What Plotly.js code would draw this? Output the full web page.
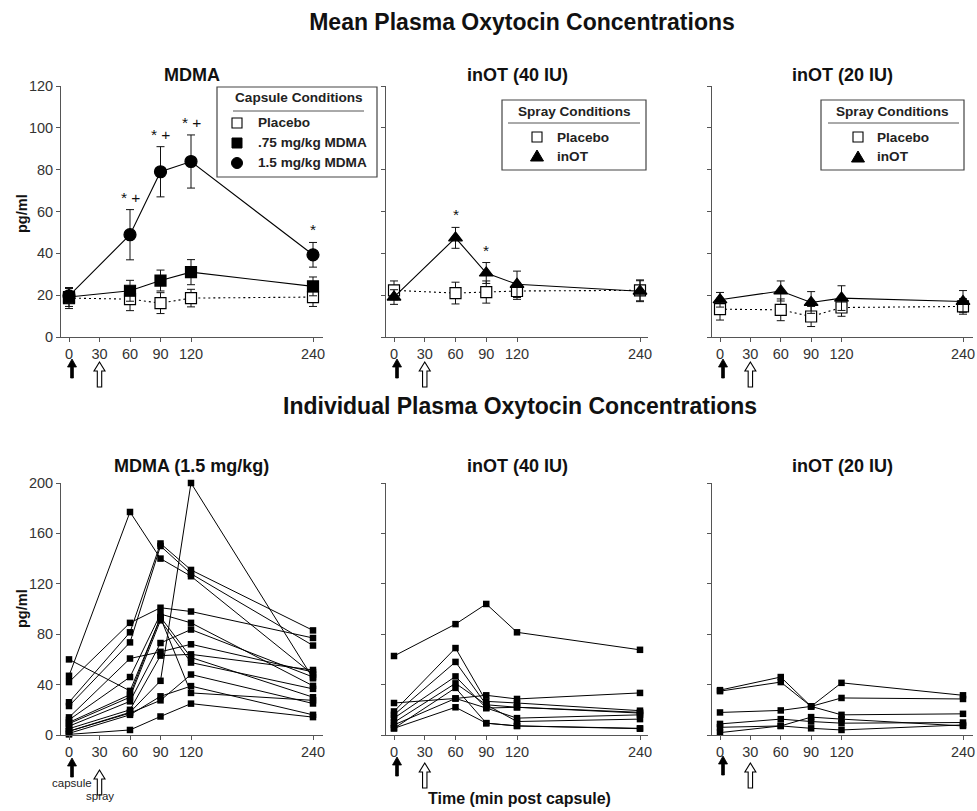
<!DOCTYPE html>
<html><head><meta charset="utf-8">
<script src="https://cdn.plot.ly/plotly-3.0.1.min.js"></script>
<style>html,body{margin:0;padding:0;background:#fff}#chart{width:977px;height:811px}</style>
</head><body><div id="chart"></div>
<script>
// ---------- DATA ----------
const times = [0, 60, 90, 120, 240];
const timeTicks = [0, 30, 60, 90, 120, 240];
const meanTicks = [0, 20, 40, 60, 80, 100, 120];
const indivTicks = [0, 40, 80, 120, 160, 200];

// Mean panel: MDMA (capsule conditions)
const mdmaPlaceboMean = [18.6, 18.1, 16.2, 18.6, 19.1];
const mdmaPlaceboSem  = [5.0, 5.5, 5.0, 4.2, 4.5];
const mdma075Mean     = [19.1, 22.1, 27.0, 31.0, 24.2];
const mdma075Sem      = [4.5, 5.0, 5.0, 6.0, 4.5];
const mdma150Mean     = [19.7, 48.9, 79.0, 83.9, 39.3];
const mdma150Sem      = [3.5, 12.0, 12.0, 12.7, 5.9];
const mdmaSig         = ['', '* +', '* +', '* +', '*'];

// Mean panel: inOT 40 IU (spray conditions)
const inot40PlaceboMean = [22.3, 21.0, 21.5, 22.0, 22.3];
const inot40PlaceboSem  = [4.5, 5.2, 5.3, 4.0, 5.0];
const inot40Mean        = [19.1, 47.4, 30.6, 25.2, 21.9];
const inot40Sem         = [3.5, 5.0, 5.0, 6.3, 5.0];
const inot40Sig         = ['', '*', '*', '', ''];

// Mean panel: inOT 20 IU
const inot20PlaceboMean = [13.3, 13.0, 9.8, 14.1, 14.6];
const inot20PlaceboSem  = [5.2, 5.2, 4.8, 4.2, 3.7];
const inot20Mean        = [17.8, 22.0, 16.5, 18.6, 17.0];
const inot20Sem         = [3.5, 4.8, 5.2, 5.9, 5.2];
const inot20Sig         = ['', '', '', '', ''];

// Individual subjects (pg/ml at each time)
const mdmaIndividual = [
  [47, 177, 140, 126, 48],
  [3, 18, 43, 200, 45],
  [60, 35, 93, 33.4, 27.5],
  [42, 89, 101, 98, 77],
  [26, 81.5, 152, 131, 83],
  [23, 73.5, 150, 128, 71],
  [14, 60.7, 66, 72, 50],
  [12, 46, 96, 89, 39],
  [10, 32, 93.6, 61.5, 30],
  [9, 30, 91, 57.5, 36.6],
  [7, 26.7, 73, 83.7, 46],
  [5, 20, 63, 64, 51.6],
  [3, 17.4, 27.5, 48, 25],
  [1.3, 16, 30.7, 38.8, 16],
  [0.5, 4, 14.7, 24.9, 14.2]
];
const inot40Individual = [
  [62.7, 88, 104, 81.5, 67.6],
  [25.4, 29, 31.5, 28.6, 33.4],
  [18.7, 69, 26.7, 25.4, 19.3],
  [16, 58, 24, 22, 17.4],
  [13.4, 46.5, 21.4, 13.4, 16],
  [10, 41, 24, 10.7, 12.6],
  [5.3, 37.4, 9.4, 7.2, 5.3],
  [5.3, 22, 9.4, 7.2, 5],
  [8, 29, 21.4, 22, 18]
];
const inot20Individual = [
  [35.6, 46, 22.7, 41.4, 31.5],
  [34.8, 42, 22.7, 29.4, 28.6],
  [17.9, 19.5, 22.7, 16, 16.8],
  [8.8, 12.6, 10.7, 9.4, 9.9],
  [6.1, 7.2, 5.3, 4, 8],
  [1.9, 7.2, 14.2, 12.6, 7.2]
];

const mainTitles = ['Mean Plasma Oxytocin Concentrations', 'Individual Plasma Oxytocin Concentrations'];
const topTitles = ['MDMA', 'inOT (40 IU)', 'inOT (20 IU)'];
const bottomTitles = ['MDMA (1.5 mg/kg)', 'inOT (40 IU)', 'inOT (20 IU)'];
const capsuleLegendTitle = 'Capsule Conditions';
const capsuleLegend = ['Placebo', '.75 mg/kg MDMA', '1.5 mg/kg MDMA'];
const sprayLegendTitle = 'Spray Conditions';
const sprayLegend = ['Placebo', 'inOT'];
const yTitle = 'pg/ml';
const xTitle = 'Time (min post capsule)';
const arrowLabels = ['capsule', 'spray'];
const capsuleTime = 0, sprayTime = 30;

// ---------- LAYOUT GEOMETRY ----------
const W = 977, H = 811;
const FONT = 'Liberation Sans, Arial, Helvetica, sans-serif';
const fx = p => p / W;
const fy = p => 1 - p / H;

const cols = [
  {l: 61, r: 323, x0: 69, x240: 313},
  {l: 386, r: 648, x0: 394, x240: 640},
  {l: 712, r: 973, x0: 720, x240: 963}
];
const rows = [
  {t: 86, b: 337, max: 120, ticks: meanTicks},
  {t: 483, b: 735, max: 200, ticks: indivTicks}
];

const layout = {
  width: W, height: H,
  margin: {l: 0, r: 0, t: 0, b: 0},
  paper_bgcolor: '#fff', plot_bgcolor: '#fff',
  showlegend: false,
  font: {family: FONT, color: '#222'},
  title: {text: '<b>' + mainTitles[0] + '</b>', x: fx(522), xanchor: 'center', xref: 'paper',
          y: fy(22), yanchor: 'middle', yref: 'paper', font: {size: 23, family: FONT, color: '#111'}},
  annotations: [], shapes: []
};

function axisName(r, c) { return r * 3 + c + 1; }

for (let r = 0; r < 2; r++) {
  for (let c = 0; c < 3; c++) {
    const n = axisName(r, c);
    const col = cols[c], row = rows[r];
    const s = (col.x240 - col.x0) / 240;
    const xk = n === 1 ? 'xaxis' : 'xaxis' + n;
    const yk = n === 1 ? 'yaxis' : 'yaxis' + n;
    layout[xk] = {
      domain: [fx(col.l), fx(col.r)],
      range: [(col.l - col.x0) / s, (col.r - col.x0) / s],
      anchor: n === 1 ? 'y' : 'y' + n,
      showline: true, linecolor: '#555', linewidth: 1,
      ticks: 'outside', ticklen: 4, tickcolor: '#555', tickwidth: 1,
      tickvals: timeTicks, ticktext: timeTicks.map(String),
      showgrid: false, zeroline: false, fixedrange: true,
      tickfont: {size: 14.5, color: '#333', family: FONT}
    };
    layout[yk] = {
      domain: [fy(row.b), fy(row.t)],
      range: [0, row.max],
      anchor: n === 1 ? 'x' : 'x' + n,
      showline: true, linecolor: '#555', linewidth: 1,
      ticks: 'outside', ticklen: 4, tickcolor: '#555', tickwidth: 1,
      tickvals: row.ticks, ticktext: row.ticks.map(String),
      showticklabels: c === 0,
      showgrid: false, zeroline: false, fixedrange: true,
      tickfont: {size: 14.5, color: '#333', family: FONT}
    };
  }
}

// ---------- TRACES ----------
const traces = [];
function axRefs(n) { return {xaxis: n === 1 ? 'x' : 'x' + n, yaxis: n === 1 ? 'y' : 'y' + n}; }

function meanTrace(n, y, sem, symbol, fill, dash, size) {
  return Object.assign({
    type: 'scatter', mode: 'lines+markers', x: times, y: y,
    cliponaxis: false,
    line: {color: '#000', width: 1.1, dash: dash},
    marker: {symbol: symbol, size: size, color: fill, line: {color: '#000', width: 1.2}},
    error_y: {type: 'data', array: sem, visible: true, color: '#111', thickness: 1, width: 4}
  }, axRefs(n));
}

const DOT = '2px,3px';
// MDMA
traces.push(meanTrace(1, mdmaPlaceboMean, mdmaPlaceboSem, 'square', '#fff', DOT, 11));
traces.push(meanTrace(1, mdma075Mean, mdma075Sem, 'square', '#000', 'solid', 11));
traces.push(meanTrace(1, mdma150Mean, mdma150Sem, 'circle', '#000', 'solid', 12));
// inOT 40
traces.push(meanTrace(2, inot40PlaceboMean, inot40PlaceboSem, 'square', '#fff', DOT, 11));
traces.push(meanTrace(2, inot40Mean, inot40Sem, 'triangle-up', '#000', 'solid', 12));
// inOT 20
traces.push(meanTrace(3, inot20PlaceboMean, inot20PlaceboSem, 'square', '#fff', DOT, 11));
traces.push(meanTrace(3, inot20Mean, inot20Sem, 'triangle-up', '#000', 'solid', 12));

function indivTraces(n, subjects) {
  subjects.forEach(vals => {
    traces.push(Object.assign({
      type: 'scatter', mode: 'lines+markers', x: times, y: vals, cliponaxis: false,
      line: {color: '#000', width: 1},
      marker: {symbol: 'square', size: 6.5, color: '#000'}
    }, axRefs(n)));
  });
}
indivTraces(4, mdmaIndividual);
indivTraces(5, inot40Individual);
indivTraces(6, inot20Individual);

// ---------- ANNOTATIONS ----------
const A = layout.annotations, S = layout.shapes;

// second main title
A.push({text: '<b>' + mainTitles[1] + '</b>', xref: 'paper', yref: 'paper', x: fx(520), y: fy(406),
        xanchor: 'center', yanchor: 'middle', showarrow: false, font: {size: 23, family: FONT, color: '#111'}});

// panel titles
for (let c = 0; c < 3; c++) {
  const nT = axisName(0, c), nB = axisName(1, c);
  A.push({text: '<b>' + topTitles[c] + '</b>', xref: (nT === 1 ? 'x' : 'x' + nT) + ' domain', yref: 'paper',
          x: 0.5, y: fy(75), xanchor: 'center', yanchor: 'middle', showarrow: false,
          font: {size: 18, family: FONT, color: '#111'}});
  A.push({text: '<b>' + bottomTitles[c] + '</b>', xref: 'x' + nB + ' domain', yref: 'paper',
          x: 0.5, y: fy(466), xanchor: 'center', yanchor: 'middle', showarrow: false,
          font: {size: 18, family: FONT, color: '#111'}});
}

// significance markers
function sigMarks(n, sig, mean, sem) {
  sig.forEach((t, i) => {
    if (!t) return;
    A.push({text: t, xref: n === 1 ? 'x' : 'x' + n, yref: n === 1 ? 'y' : 'y' + n,
            x: times[i], y: mean[i] + sem[i], yanchor: 'bottom', xanchor: 'center', yshift: 2,
            showarrow: false, font: {size: 15.5, family: FONT, color: '#111'}});
  });
}
sigMarks(1, mdmaSig, mdma150Mean, mdma150Sem);
sigMarks(2, inot40Sig, inot40Mean, inot40Sem);
sigMarks(3, inot20Sig, inot20Mean, inot20Sem);

// y-axis titles
[214, 609].forEach(py => {
  A.push({text: '<b>' + yTitle + '</b>', xref: 'paper', yref: 'paper', x: fx(22), y: fy(py),
          textangle: -90, xanchor: 'center', yanchor: 'middle', showarrow: false,
          font: {size: 14.5, family: FONT, color: '#111'}});
});
// x-axis title
A.push({text: '<b>' + xTitle + '</b>', xref: 'paper', yref: 'paper', x: fx(519), y: fy(798),
        xanchor: 'center', yanchor: 'middle', showarrow: false, font: {size: 16, family: FONT, color: '#111'}});

// arrows (capsule = solid, spray = hollow)
const blackArrow = 'M3,0 L-1.5,-8 L1.6,-8 L1.6,-19 L4.4,-19 L4.4,-8 L7.5,-8 Z';
const hollowArrow = 'M0,0 L-5.5,-9 L-2.2,-9 L-2.2,-25 L2.2,-25 L2.2,-9 L5.5,-9 Z';
const arrowTips = [
  [{b: 359, h: 362}, {b: 359, h: 362}, {b: 359, h: 362}],
  [{b: 758, h: 770}, {b: 757, h: 763}, {b: 756, h: 763}]
];
for (let r = 0; r < 2; r++) for (let c = 0; c < 3; c++) {
  const n = axisName(r, c);
  const xr = n === 1 ? 'x' : 'x' + n;
  S.push({type: 'path', xref: xr, yref: 'paper', xsizemode: 'pixel', ysizemode: 'pixel',
          xanchor: capsuleTime, yanchor: fy(arrowTips[r][c].b), path: blackArrow,
          fillcolor: '#000', line: {color: '#000', width: 0.8}});
  S.push({type: 'path', xref: xr, yref: 'paper', xsizemode: 'pixel', ysizemode: 'pixel',
          xanchor: sprayTime, yanchor: fy(arrowTips[r][c].h), path: hollowArrow,
          fillcolor: '#fff', line: {color: '#000', width: 1.1}});
}
A.push({text: arrowLabels[0], xref: 'x4', yref: 'paper', x: capsuleTime, xshift: 3, y: fy(783),
        xanchor: 'center', yanchor: 'middle', showarrow: false, font: {size: 11.5, family: FONT, color: '#222'}});
A.push({text: arrowLabels[1], xref: 'x4', yref: 'paper', x: sprayTime, y: fy(796),
        xanchor: 'center', yanchor: 'middle', showarrow: false, font: {size: 11.5, family: FONT, color: '#222'}});

// ---------- LEGEND BOXES ----------
function rectPx(x0, y0, x1, y1, fill, lw) {
  S.push({type: 'rect', xref: 'paper', yref: 'paper', x0: fx(x0), x1: fx(x1), y0: fy(y1), y1: fy(y0),
          fillcolor: fill, line: {color: '#444', width: lw}});
}
function linePx(x0, y0, x1, y1) {
  S.push({type: 'line', xref: 'paper', yref: 'paper', x0: fx(x0), x1: fx(x1), y0: fy(y0), y1: fy(y1),
          line: {color: '#555', width: 1}});
}
function symbolPx(kind, cx, cy) {
  const h = 5;
  if (kind === 'open') {
    S.push({type: 'rect', xref: 'paper', yref: 'paper', x0: fx(cx - h), x1: fx(cx + h), y0: fy(cy + h), y1: fy(cy - h),
            fillcolor: '#fff', line: {color: '#000', width: 1.1}});
  } else if (kind === 'square') {
    S.push({type: 'rect', xref: 'paper', yref: 'paper', x0: fx(cx - h), x1: fx(cx + h), y0: fy(cy + h), y1: fy(cy - h),
            fillcolor: '#000', line: {color: '#000', width: 1}});
  } else if (kind === 'circle') {
    S.push({type: 'circle', xref: 'paper', yref: 'paper', x0: fx(cx - 5.5), x1: fx(cx + 5.5), y0: fy(cy + 5.5), y1: fy(cy - 5.5),
            fillcolor: '#000', line: {color: '#000', width: 1}});
  } else if (kind === 'triangle') {
    const p = 'M' + fx(cx) + ',' + fy(cy - 6) + ' L' + fx(cx - 6.5) + ',' + fy(cy + 5) + ' L' + fx(cx + 6.5) + ',' + fy(cy + 5) + ' Z';
    S.push({type: 'path', xref: 'paper', yref: 'paper', path: p, fillcolor: '#000', line: {color: '#000', width: 1}});
  }
}
function legendText(text, x, y, anchor) {
  A.push({text: '<b>' + text + '</b>', xref: 'paper', yref: 'paper', x: fx(x), y: fy(y),
          xanchor: anchor, yanchor: 'middle', showarrow: false, font: {size: 13.6, family: FONT, color: '#222'}});
}
function drawLegend(box, title, labels, kinds, symX, textX, itemY) {
  rectPx(box.l, box.t, box.r, box.b, '#fff', 1.2);
  legendText(title, (box.l + box.r) / 2 + box.dx, box.titleY, 'center');
  linePx(box.ruleL, box.ruleY, box.ruleR, box.ruleY);
  labels.forEach((lab, i) => {
    symbolPx(kinds[i], symX, itemY[i]);
    legendText(lab, textX, itemY[i], 'left');
  });
}
drawLegend({l: 217, t: 87, r: 377, b: 177, dx: 2, titleY: 98, ruleL: 233, ruleR: 364, ruleY: 111},
           capsuleLegendTitle, capsuleLegend, ['open', 'square', 'circle'], 237, 256, [123, 143, 163]);
drawLegend({l: 502, t: 100, r: 646, b: 170, dx: 0, titleY: 112, ruleL: 508, ruleR: 640, ruleY: 123},
           sprayLegendTitle, sprayLegend, ['open', 'triangle'], 537, 555, [137, 156]);
drawLegend({l: 821, t: 100, r: 964, b: 170, dx: 0, titleY: 112, ruleL: 828, ruleR: 959, ruleY: 123},
           sprayLegendTitle, sprayLegend, ['open', 'triangle'], 858, 875, [137, 157]);

Plotly.newPlot('chart', traces, layout, {displayModeBar: false, staticPlot: true});
</script></body></html>
